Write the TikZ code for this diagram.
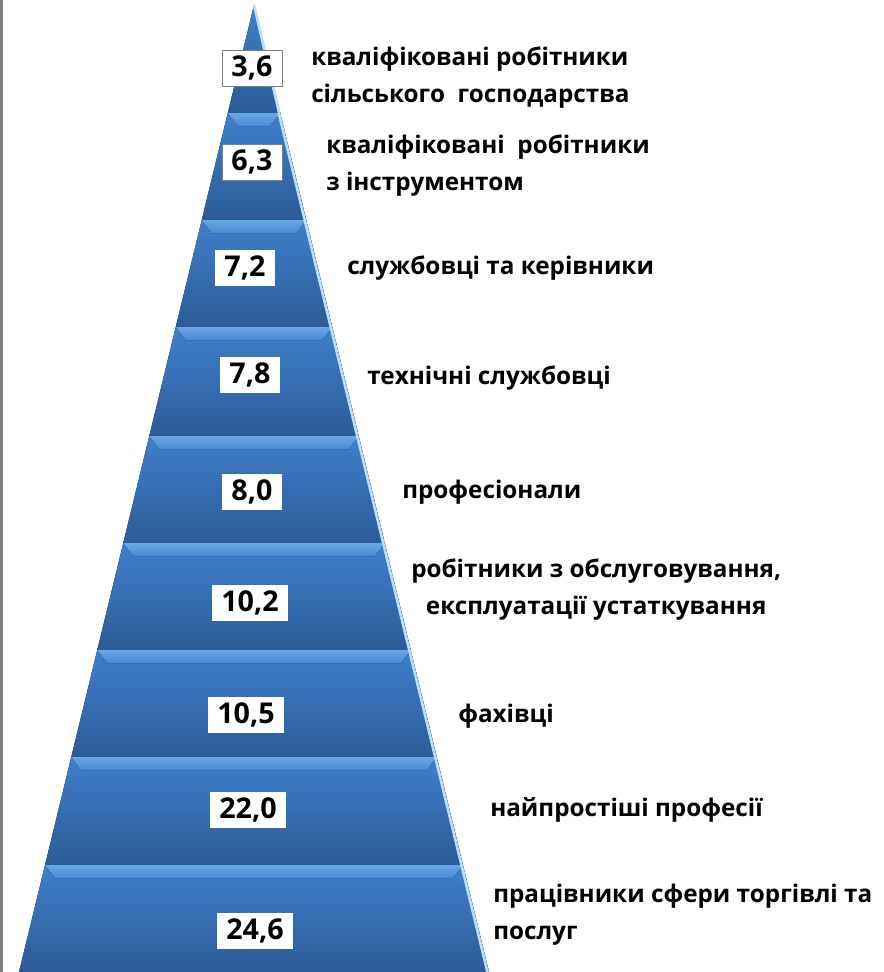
\documentclass[tikz,border=0pt]{standalone}
\usepackage{fontspec}
\setmainfont{Open Sans}
\definecolor{pyrtop}{HTML}{3F80CC}
\definecolor{pyrbot}{HTML}{2C5B97}
\definecolor{bevtop}{HTML}{6AA6E4}
\definecolor{bevmid}{HTML}{B6E0FB}
\definecolor{bevbot}{HTML}{4A8AD3}
\definecolor{sidebar}{HTML}{808080}

\begin{document}
\begin{tikzpicture}[x=0.75pt,y=-0.75pt]
    \tikzstyle{band}=[top color=pyrtop,bottom color=pyrbot]
    \tikzstyle{bevel}=[top color=bevtop,middle color=bevmid,bottom color=bevbot]
    \tikzstyle{edge hl}=[draw=bevmid,line width=2pt]
    \tikzstyle{value}=[fill=white,minimum height=27pt,inner xsep=7pt,inner ysep=0pt,font=\fontsize{21.5}{24}\selectfont\bfseries]
    \tikzstyle{annot}=[anchor=west,align=left,inner sep=0pt,font=\fontsize{18.2}{27.7}\selectfont\bfseries]

    \useasboundingbox (0,0) rectangle (884,972);
    \fill[white] (0,0) rectangle (884,972);
    \fill[sidebar] (0,0) rectangle (3,972);

    % Draw the tip of the pyramid
    \fill[band] (254,5) -- (280.2,113) -- (227.8,113) -- cycle;
    \draw[edge hl] (254,5) -- (279.2,113);
    % Draw the layers below the tip
    \foreach \yt/\yb in {113/220,220/327,327/436,436/543,543/650,650/757,757/865,865/972}
    {
        \pgfmathsetmacro{\wt}{0.243*(\yt-5)}
        \pgfmathsetmacro{\wb}{0.243*(\yb-5)}
        \pgfmathsetmacro{\wh}{0.243*(\yt+13-5)}
        \fill[band] (254-\wt,\yt) -- (254+\wt,\yt) -- (254+\wb,\yb) -- (254-\wb,\yb) -- cycle;
        \fill[bevel] (254-\wt,\yt) -- (254+\wt,\yt) -- (254+\wh-13,\yt+13) -- (254-\wh+13,\yt+13) -- cycle;
        \draw[edge hl] (254+\wt-1.5,\yt) -- (254+\wb-1.5,\yb);
    }

    % Shares on the pyramid
    \node[value,draw=gray] (v1) at (252,68) {3,6};
    \node[value,draw=gray] (v2) at (252,162) {6,3};
    \node[value] (v3) at (245,268) {7,2};
    \node[value] (v4) at (250,375) {7,8};
    \node[value] (v5) at (252,492) {8,0};
    \node[value] (v6) at (250,603) {10,2};
    \node[value] (v7) at (246,715) {10,5};
    \node[value] (v8) at (248,810) {22,0};
    \node[value] (v9) at (255,931) {24,6};

    % Annotate the layers
    \node[annot] (l1) at (311,78) {кваліфіковані робітники\\сільського\ \ господарства};
    \node[annot] (l2) at (326,166) {кваліфіковані\ \ робітники\\з інструментом};
    \node[annot] (l3) at (347,268) {службовці та керівники};
    \node[annot] (l4) at (367,378) {технічні службовці};
    \node[annot] (l5) at (402,492) {професіонали};
    \node[annot,align=center] (l6) at (411,590) {робітники з обслуговування,\\експлуатації устаткування};
    \node[annot] (l7) at (458,716) {фахівці};
    \node[annot] (l8) at (490,810) {найпростіші професії};
    \node[annot] (l9) at (493,915) {працівники сфери торгівлі та\\послуг};
\end{tikzpicture}
\end{document}
